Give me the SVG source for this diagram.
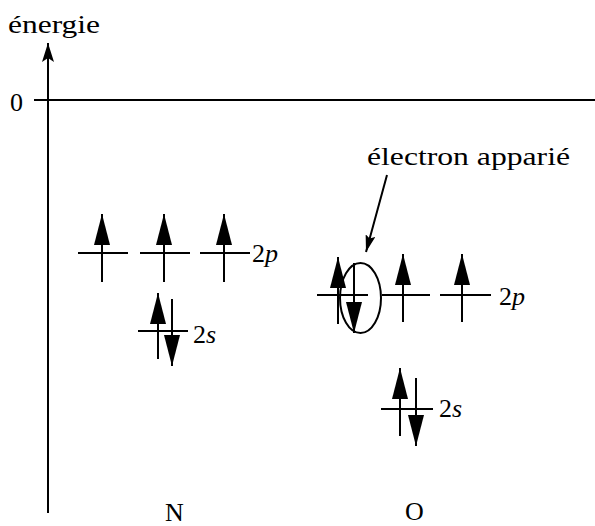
<svg xmlns="http://www.w3.org/2000/svg" width="595" height="526" viewBox="0 0 595 526">
<style>
.ln{stroke:#000;stroke-width:2;fill:none}
.sp{stroke:#000;stroke-width:2;fill:none;marker-end:url(#spin)}
.t{font-family:"Liberation Serif","Times New Roman",serif;font-size:26px;fill:#000}
</style>
<defs>
<marker id="spin" markerUnits="userSpaceOnUse" markerWidth="31" markerHeight="16" viewBox="0 0 31 16" refX="31" refY="8" orient="auto"><path d="M0,0 L31,8 L0,16 Z" fill="#000"/></marker>
<marker id="ptr" markerUnits="userSpaceOnUse" markerWidth="17" markerHeight="10" viewBox="0 0 17 10" refX="17" refY="5" orient="auto"><path d="M0,0 L17,5 L0,10 L3,5 Z" fill="#000"/></marker>
<marker id="ax" markerUnits="userSpaceOnUse" markerWidth="19" markerHeight="12" viewBox="0 0 19 12" refX="19" refY="6" orient="auto"><path d="M0,0 L19,6 L0,12 L4,6 Z" fill="#000"/></marker>
</defs>
<g id="axes">
<line class="ln" x1="48" y1="513" x2="48" y2="43" marker-end="url(#ax)"/>
<line class="ln" x1="34" y1="100" x2="595" y2="100"/>
<text class="t" x="8" y="33" textLength="92" lengthAdjust="spacingAndGlyphs">énergie</text>
<text class="t" x="10" y="111">0</text>
</g>
<g id="N">
<g id="N-2p">
<line class="ln" x1="78" y1="253" x2="128" y2="253"/>
<line class="ln" x1="140" y1="253" x2="190" y2="253"/>
<line class="ln" x1="200" y1="253" x2="250" y2="253"/>
<line class="sp" x1="102" y1="282" x2="102" y2="214"/>
<line class="sp" x1="164" y1="282" x2="164" y2="214"/>
<line class="sp" x1="224" y1="282" x2="224" y2="214"/>
<text class="t" x="252" y="262">2<tspan font-style="italic">p</tspan></text>
</g>
<g id="N-2s">
<line class="ln" x1="138" y1="331" x2="188" y2="331"/>
<line class="sp" x1="158" y1="359" x2="158" y2="293"/>
<line class="sp" x1="172" y1="299" x2="172" y2="366"/>
<text class="t" x="193" y="343">2<tspan font-style="italic">s</tspan></text>
</g>
<text class="t" x="165" y="521">N</text>
</g>
<g id="O">
<g id="O-2p">
<line class="ln" x1="317" y1="295" x2="368" y2="295"/>
<line class="ln" x1="382" y1="295" x2="430" y2="295"/>
<line class="ln" x1="440" y1="295" x2="491" y2="295"/>
<line class="sp" x1="338" y1="324" x2="338" y2="257"/>
<line class="sp" x1="354" y1="263" x2="354" y2="333"/>
<line class="sp" x1="403" y1="322" x2="403" y2="254"/>
<line class="sp" x1="462" y1="322" x2="462" y2="254"/>
<ellipse id="paire" class="ln" cx="360.5" cy="298" rx="20.5" ry="35"/>
<text class="t" x="499" y="305">2<tspan font-style="italic">p</tspan></text>
</g>
<g id="O-2s">
<line class="ln" x1="381" y1="409" x2="433" y2="409"/>
<line class="sp" x1="400" y1="436" x2="400" y2="368"/>
<line class="sp" x1="416" y1="378" x2="416" y2="446"/>
<text class="t" x="439" y="417">2<tspan font-style="italic">s</tspan></text>
</g>
<text class="t" x="405" y="520">O</text>
</g>
<g id="annotation">
<text class="t" x="367" y="165" textLength="203" lengthAdjust="spacingAndGlyphs">électron apparié</text>
</g>
<g id="connectors">
<line class="ln" x1="387" y1="175" x2="366" y2="252" marker-end="url(#ptr)"/>
</g>
</svg>
